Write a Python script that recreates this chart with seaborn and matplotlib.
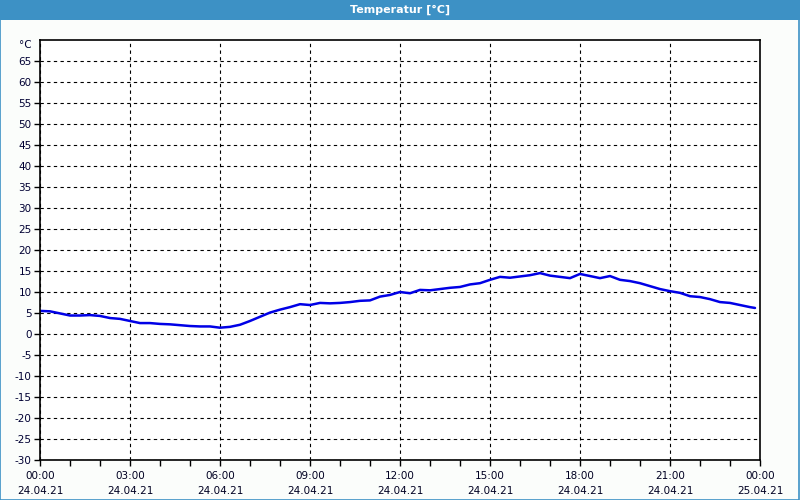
import numpy as np
import pandas as pd
import matplotlib
matplotlib.use("Agg")
import matplotlib.pyplot as plt
import seaborn as sns
from matplotlib.patches import Rectangle

# time in hours since 24.04.21 00:00
hours = [0.0, 0.333, 0.667, 1.0, 1.333, 1.667, 2.0, 2.333, 2.667, 3.0, 3.333, 3.667,
         4.0, 4.333, 4.667, 5.0, 5.333, 5.667, 6.0, 6.333, 6.667, 7.0, 7.333, 7.667,
         8.0, 8.333, 8.667, 9.0, 9.333, 9.667, 10.0, 10.333, 10.667, 11.0, 11.333, 11.667,
         12.0, 12.333, 12.667, 13.0, 13.333, 13.667, 14.0, 14.333, 14.667, 15.0, 15.333, 15.667,
         16.0, 16.333, 16.667, 17.0, 17.333, 17.667, 18.0, 18.333, 18.667, 19.0, 19.333, 19.667,
         20.0, 20.333, 20.667, 21.0, 21.333, 21.667, 22.0, 22.333, 22.667, 23.0, 23.333, 23.667, 23.833]
temps = [5.5, 5.4, 4.9, 4.4, 4.4, 4.5, 4.3, 3.8, 3.6, 3.1, 2.6, 2.6,
         2.4, 2.3, 2.1, 1.9, 1.8, 1.8, 1.5, 1.7, 2.2, 3.1, 4.1, 5.1,
         5.8, 6.4, 7.1, 6.9, 7.4, 7.3, 7.4, 7.6, 7.9, 8.0, 8.9, 9.3,
         10.0, 9.7, 10.5, 10.4, 10.7, 11.0, 11.2, 11.8, 12.1, 12.9, 13.6, 13.4,
         13.7, 14.0, 14.5, 13.9, 13.6, 13.3, 14.3, 13.8, 13.3, 13.8, 12.9, 12.6,
         12.1, 11.4, 10.7, 10.2, 9.8, 9.0, 8.8, 8.3, 7.6, 7.4, 6.9, 6.4, 6.2]

x_ticks = [0, 3, 6, 9, 12, 15, 18, 21, 24]
x_labels = ["00:00\n24.04.21", "03:00\n24.04.21", "06:00\n24.04.21", "09:00\n24.04.21",
            "12:00\n24.04.21", "15:00\n24.04.21", "18:00\n24.04.21", "21:00\n24.04.21",
            "00:00\n25.04.21"]
y_ticks = list(range(-30, 70, 5))

title = "Temperatur [°C]"
unit = "°C"

df = pd.DataFrame({"h": hours, "t": temps})

sns.set_style("white")
plt.rcParams['font.family'] = ['DejaVu Sans']

fig = plt.figure(figsize=(8, 5), dpi=100, facecolor="#fbfdfb")
ax = fig.add_axes([0.05, 0.08, 0.90, 0.84])
ax.set_facecolor("white")

sns.lineplot(data=df, x="h", y="t", ax=ax, color="#0000e6", linewidth=1.8)

ax.set_xlim(0, 24)
ax.set_ylim(-30, 70)
ax.set_xticks(x_ticks)
ax.set_xticklabels(x_labels, fontsize=7.5, color="#000022", linespacing=1.6)
ax.set_xticks(np.arange(0, 25, 1), minor=True)
ax.set_yticks(y_ticks)
ax.set_yticklabels([str(v) for v in y_ticks], fontsize=7.5, color="#000033")
ax.tick_params(axis="both", which="both", direction="out", length=4, width=1,
               color="black", pad=2, bottom=True, left=True)
ax.tick_params(axis="x", which="major", pad=4)
ax.set_xlabel("")
ax.set_ylabel("")

ax.grid(True, which="major", color="black", linestyle=(0, (3, 3)), linewidth=0.8)
ax.grid(False, which="minor")
for s in ax.spines.values():
    s.set_color("black")
    s.set_linewidth(1.2)
    s.set_visible(True)

ax.text(-0.012, 1.0, unit, transform=ax.transAxes, ha="right", va="top", fontsize=7.5, color="#000033")

# title bar
fig.patches.append(Rectangle((0, 0.96), 1, 0.04, transform=fig.transFigure,
                             facecolor="#3d91c5", edgecolor="none", zorder=0))
fig.patches.append(Rectangle((0.0006, 0.001), 0.9985, 0.998, transform=fig.transFigure,
                             facecolor="none", edgecolor="#3d91c5", linewidth=1.2, zorder=1))
fig.text(0.5, 0.98, title, ha="center", va="center", fontsize=8, color="white", fontweight="bold")

fig.savefig("out.png", dpi=100, facecolor=fig.get_facecolor())
